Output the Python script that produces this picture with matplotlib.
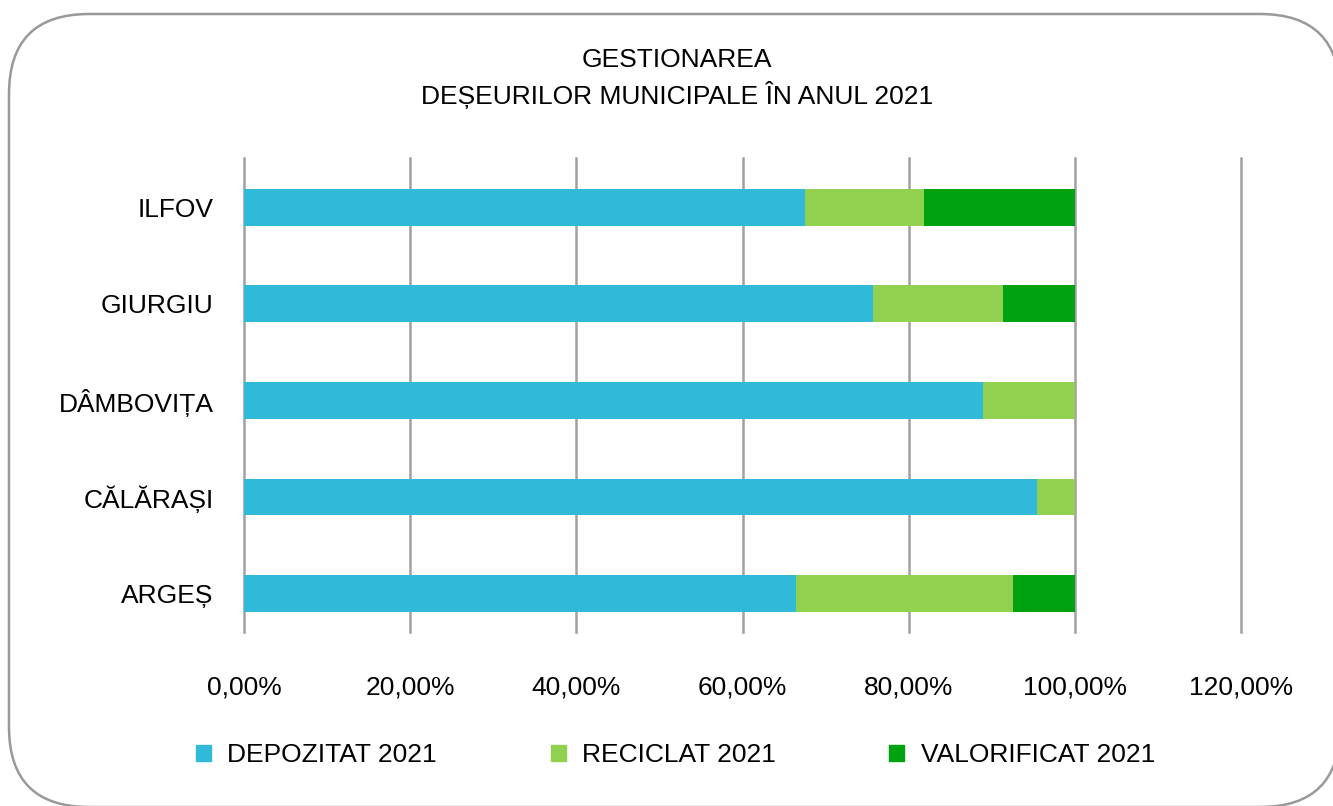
import matplotlib.pyplot as plt
from matplotlib.patches import FancyBboxPatch, Patch

plt.rcParams['font.family'] = ['Liberation Sans', 'DejaVu Sans']

# data (shares)
judete = ['ARGEȘ', 'CĂLĂRAȘI', 'DÂMBOVIȚA', 'GIURGIU', 'ILFOV']
depozitat = [0.664, 0.955, 0.889, 0.757, 0.675]
reciclat = [0.261, 0.045, 0.111, 0.156, 0.144]
valorificat = [0.075, 0.0, 0.0, 0.087, 0.181]

c_dep = '#31b9d9'
c_rec = '#92d050'
c_val = '#00a30f'
fs = 19

fig = plt.figure(figsize=(13.33, 8.06), dpi=100)
ax = fig.add_axes([244 / 1333, 1 - 632 / 806, (1241 - 244) / 1333, (632 - 158) / 806])
ax.patch.set_alpha(0)

y = range(len(judete))
h = 0.38
ax.barh(y, depozitat, height=h, color=c_dep, zorder=3)
ax.barh(y, reciclat, height=h, left=depozitat, color=c_rec, zorder=3)
left2 = [a + b for a, b in zip(depozitat, reciclat)]
ax.barh(y, valorificat, height=h, left=left2, color=c_val, zorder=3)

ax.set_xlim(0, 1.2)
ax.set_ylim(-0.4, 4.51)
ticks = [0, 0.2, 0.4, 0.6, 0.8, 1.0, 1.2]
ax.set_xticks(ticks)
ax.set_xticklabels([f'{t * 100:.2f}%'.replace('.', ',') for t in ticks], fontsize=fs)
ax.set_yticks(list(y))
ax.set_yticklabels(judete, fontsize=fs)
ax.tick_params(axis='both', length=0)
ax.tick_params(axis='x', pad=31)
ax.tick_params(axis='y', pad=22)
for s in ax.spines.values():
    s.set_visible(False)
ax.grid(axis='x', color='#a0a0a0', linewidth=1.8, zorder=0)
for gl in ax.get_xgridlines():
    gl.set_clip_on(False)

fig.text(677 / 1333, 1 - 60 / 806, 'GESTIONAREA', ha='center', va='center', fontsize=fs)
fig.text(677 / 1333, 1 - 95 / 806, 'DEȘEURILOR MUNICIPALE ÎN ANUL 2021', ha='center', va='center', fontsize=fs)

handles = [Patch(color=c_dep, label='DEPOZITAT 2021'),
           Patch(color=c_rec, label='RECICLAT 2021'),
           Patch(color=c_val, label='VALORIFICAT 2021')]
fig.legend(handles=handles, loc='center left', bbox_to_anchor=(196 / 1333, 1 - 755 / 806), ncol=3,
           frameon=False, fontsize=fs, handlelength=0.57, handleheight=0.57,
           handletextpad=0.62, columnspacing=4.3, borderpad=0, borderaxespad=0)

# rounded frame around the chart (white fill so Agg does not clip the curves)
box = FancyBboxPatch((0.09, -0.01), 13.31, 7.93, boxstyle='round,pad=0,rounding_size=0.8',
                     transform=fig.dpi_scale_trans, facecolor='white', edgecolor='#999999',
                     linewidth=1.8, clip_on=False, zorder=-1)
fig.patches.append(box)

fig.savefig('out.png', dpi=100)
